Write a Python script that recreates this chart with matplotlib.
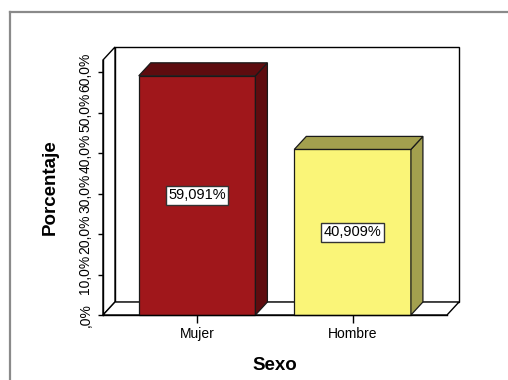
import matplotlib.pyplot as plt
from matplotlib.lines import Line2D
from matplotlib.patches import Polygon, Rectangle

categories = ["Mujer", "Hombre"]
percentages = [59.091, 40.909]
front_colors = ["#a0171b", "#faf578"]
shade_colors = ["#5e0c0f", "#a3a04e"]
yticks = [0, 10, 20, 30, 40, 50, 60]
ytick_labels = [",0%", "10,0%", "20,0%", "30,0%", "40,0%", "50,0%", "60,0%"]

plt.rcParams["font.family"] = ["Liberation Sans", "DejaVu Sans"]

W, H, DPI = 508, 380, 100
fig = plt.figure(figsize=(W / DPI, H / DPI), dpi=DPI)
fig.patch.set_facecolor("white")

# outer frame: only its top and left edges fall inside the image
fx, fy = 10 / W, 1 - 12 / H
fig.add_artist(Line2D([fx, 1.0], [fy, fy], color="#8a8a8a", lw=1.6))
fig.add_artist(Line2D([fx, fx], [0.0, fy], color="#8a8a8a", lw=1.6))

ax = fig.add_axes([103 / W, 65 / H, 344 / W, 255 / H])
xmin, xmax, ymax = -0.605, 1.607, 63
ax.set_xlim(xmin, xmax)
ax.set_ylim(0, ymax)

# depth of walls and bars, given in pixels and turned into data units
depth_px = (12, 13)
origin = ax.transData.transform((0, 0))
ddx, ddy = ax.transData.inverted().transform(origin + depth_px)

wall = dict(facecolor="white", edgecolor="black", lw=1.0, clip_on=False)
ax.add_patch(Polygon([(xmin + ddx, ddy), (xmax + ddx, ddy),
                      (xmax + ddx, ymax + ddy), (xmin + ddx, ymax + ddy)],
                     zorder=0.5, **wall))
ax.add_patch(Polygon([(xmin, 0), (xmin, ymax),
                      (xmin + ddx, ymax + ddy), (xmin + ddx, ddy)],
                     zorder=0.6, **wall))
ax.add_patch(Polygon([(xmin, 0), (xmax, 0), (xmax + ddx, ddy), (xmin + ddx, ddy)],
                     zorder=0.6, **wall))

hw = 0.375
edge = dict(edgecolor="#1a1a1a", lw=0.9, clip_on=False, zorder=2)
for i, (v, fc, sc) in enumerate(zip(percentages, front_colors, shade_colors)):
    l, r = i - hw, i + hw
    ax.add_patch(Rectangle((l, 0), 2 * hw, v, facecolor=fc, **edge))
    ax.add_patch(Polygon([(r, 0), (r + ddx, ddy), (r + ddx, v + ddy), (r, v)],
                         facecolor=sc, **edge))
    ax.add_patch(Polygon([(l, v), (r, v), (r + ddx, v + ddy), (l + ddx, v + ddy)],
                         facecolor=sc, **edge))
    ax.text(i, v / 2, f"{v:.3f}%".replace(".", ","), ha="center", va="center",
            fontsize=10.5, zorder=3,
            bbox=dict(boxstyle="square,pad=0.17", facecolor="white",
                      edgecolor="#333333", lw=1.0))

for side in ("top", "right"):
    ax.spines[side].set_visible(False)
for side in ("left", "bottom"):
    ax.spines[side].set_linewidth(1.0)
    ax.spines[side].set_zorder(2.5)

ax.set_xticks(range(len(categories)), categories)
ax.set_yticks(yticks, ytick_labels, rotation=90, va="center")
ax.tick_params(axis="x", length=6, width=1, pad=2.5, labelsize=10)
ax.tick_params(axis="y", length=3.6, width=1, pad=4, labelsize=10)

ax.set_ylabel("Porcentaje", fontsize=13.5, fontweight="bold", labelpad=14)
ax.set_xlabel("Sexo", fontsize=13.5, fontweight="bold", labelpad=11.5)

fig.savefig("out.png", dpi=DPI, facecolor="white")
